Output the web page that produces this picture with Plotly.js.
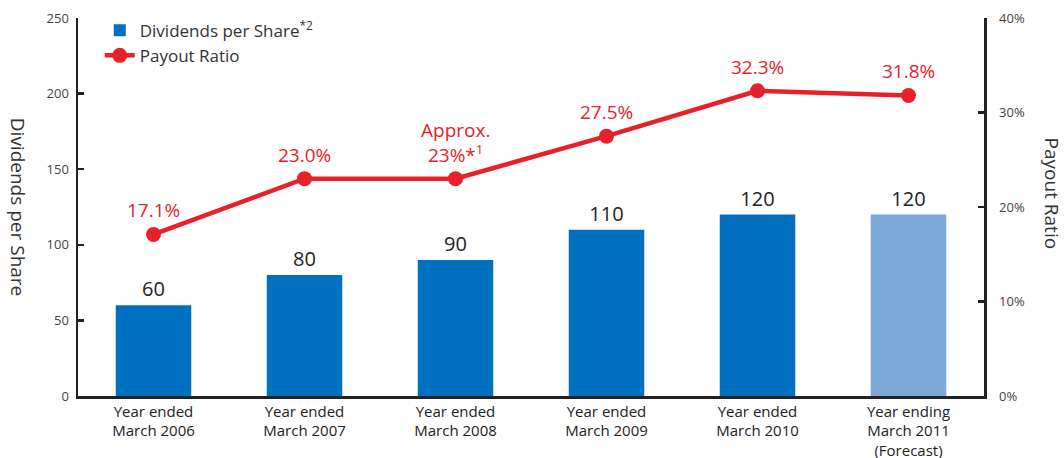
<!DOCTYPE html>
<html>
<head>
<meta charset="utf-8">
<script src="https://cdn.plot.ly/plotly-3.0.1.min.js"></script>
<style>html,body{margin:0;padding:0;background:#fff;}#chart{width:1064px;height:458px;}</style>
</head>
<body>
<div id="chart"></div>
<script>
const categories = ["Year ended<br>March 2006","Year ended<br>March 2007","Year ended<br>March 2008","Year ended<br>March 2009","Year ended<br>March 2010","Year ending<br>March 2011<br>(Forecast)"];
const dividends = [60, 80, 90, 110, 120, 120];
const payoutRatio = [17.1, 23.0, 23, 27.5, 32.3, 31.8];
const payoutLabels = ["17.1%", "23.0%", "Approx.<br>23%*<sup>1</sup>", "27.5%", "32.3%", "31.8%"];
const barColors = ["#0070c0","#0070c0","#0070c0","#0070c0","#0070c0","#7ca8d8"];
const leftTicks = [0, 50, 100, 150, 200, 250];
const rightTicks = [0, 10, 20, 30, 40];

const font = "Open Sans, Noto Sans, sans-serif";
const red = "#e8202a";

const bars = {
  type: "bar", x: categories, y: dividends, name: "Dividends per Share<sup>*2</sup>",
  marker: {color: barColors}, text: dividends.map(String), textposition: "outside",
  textfont: {size: 20, color: "#222", family: font}, cliponaxis: false, hoverinfo: "none"
};
const line = {
  type: "scatter", mode: "lines+markers", x: categories, y: payoutRatio, yaxis: "y2",
  name: "Payout Ratio", line: {color: red, width: 4.5}, marker: {color: red, size: 15},
  hoverinfo: "none"
};

const annotations = payoutLabels.map((t, i) => ({
  x: categories[i], y: payoutRatio[i], xref: "x", yref: "y2", text: t, showarrow: false,
  yanchor: "bottom", yshift: 9, font: {size: 19, color: red, family: font}
}));
annotations.push({xref: "paper", yref: "paper", x: -0.066, xshift: -15, y: 0.5, text: "Dividends per Share",
  textangle: 90, showarrow: false, font: {size: 19, color: "#333", family: font}});
annotations.push({xref: "paper", yref: "paper", x: 1.072, xshift: 18, y: 0.535, text: "Payout Ratio",
  textangle: 90, showarrow: false, font: {size: 19, color: "#333", family: font}});

const layout = {
  width: 1064, height: 458,
  margin: {l: 78, r: 80, t: 18, b: 62},
  paper_bgcolor: "#fff", plot_bgcolor: "#fff",
  font: {family: font},
  bargap: 0.5,
  showlegend: true,
  legend: {x: 0.024, y: 1.014, xanchor: "left", yanchor: "top", font: {size: 17, color: "#333", family: font},
    bgcolor: "rgba(0,0,0,0)", tracegroupgap: 0, itemwidth: 30},
  xaxis: {range: [-0.5, 5.5], showline: true, linewidth: 2.5, linecolor: "#222", ticks: "",
    showgrid: false, zeroline: false, tickfont: {size: 15, color: "#222", family: font}, fixedrange: true},
  yaxis: {range: [0, 250], tickvals: leftTicks, ticks: "inside", ticklen: 6, tickwidth: 2.5, tickcolor: "#222",
    showline: true, linewidth: 2.5, linecolor: "#222", showgrid: false, zeroline: false,
    tickfont: {size: 13, color: "#444", family: font}, ticklabelstandoff: 4},
  yaxis2: {range: [0, 40], tickvals: rightTicks, ticktext: rightTicks.map(v => v + "%"), overlaying: "y", side: "right",
    ticks: "inside", ticklen: 6, tickwidth: 2.5, tickcolor: "#222", showline: true, linewidth: 2.5, linecolor: "#222",
    showgrid: false, zeroline: false, tickfont: {size: 13, color: "#444", family: font}, ticklabelstandoff: 10},
  annotations: annotations
};

Plotly.newPlot("chart", [bars, line], layout, {displayModeBar: false, staticPlot: true});
</script>
</body>
</html>
